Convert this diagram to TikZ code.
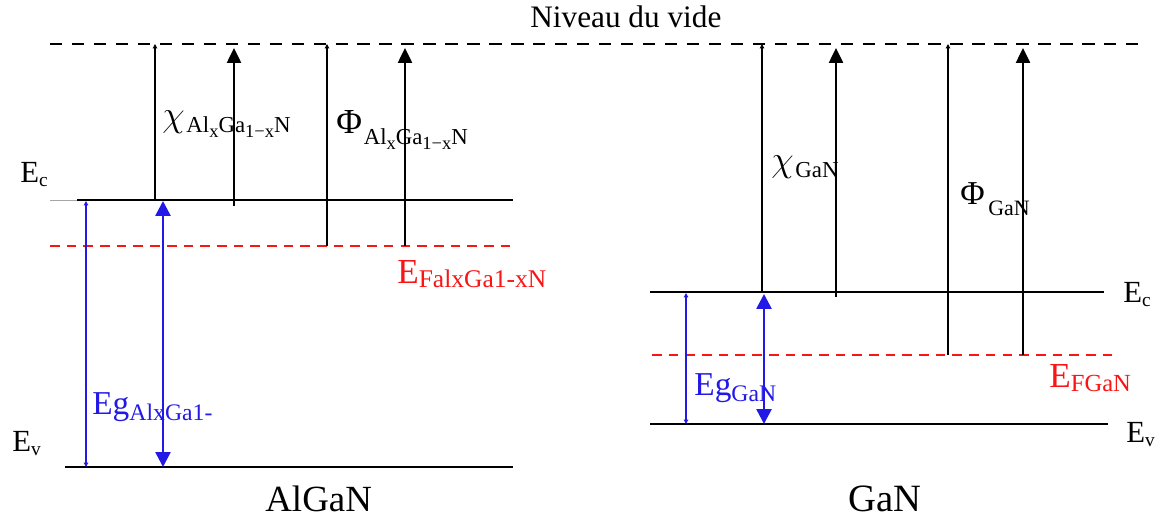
\documentclass[tikz,border=0pt]{standalone}
\usepackage{fontspec}
\setmainfont{Liberation Serif}
\usetikzlibrary{arrows.meta}
\definecolor{bandblue}{RGB}{35,25,230}
\definecolor{fermired}{RGB}{250,20,20}
\newcommand{\fs}[1]{\fontsize{#1}{#1}\selectfont}
\newcommand{\lowr}[3]{\raisebox{-#1}{\fs{#2}#3}}
\begin{document}
\begin{tikzpicture}[x=0.02cm,y=-0.02cm,
  lbl/.style={inner sep=0pt, anchor=base west},
  level/.style={line width=1.7pt, black},
  vac/.style={line width=1.6pt, black, dash pattern=on 7pt off 5.5pt},
  fermi/.style={line width=1.7pt, fermired, dash pattern=on 5.5pt off 4pt},
  thinarr/.style={line width=0.9pt, -{Triangle[width=2.5pt,length=2.5pt]}},
  bigarr/.style={line width=1.2pt, -{Triangle[width=8pt,length=8.5pt]}},
  bluethin/.style={line width=1pt, bandblue, {Triangle[width=2.5pt,length=2.5pt]}-{Triangle[width=2.5pt,length=2.5pt]}},
  bluebig/.style={line width=1.5pt, bandblue, {Triangle[width=8.5pt,length=8.5pt]}-{Triangle[width=8.5pt,length=8.5pt]}}
]
\useasboundingbox (0,0) rectangle (1163,519);

% vacuum level
\coordinate (vacL) at (50,44);
\coordinate (vacR) at (1140,44);
\draw[vac] (vacL) -- (vacR);
\node[lbl] (niv) at (530,28) {\fs{17.8}Niveau du vide};

% ---------- AlGaN ----------
\coordinate (ecLg) at (50,200);
\coordinate (ecL0) at (77,200);
\coordinate (ecL1) at (513,200);
\draw[gray!70, line width=0.5pt] (ecLg) -- (ecL0);
\draw[level] (ecL0) -- (ecL1);
\coordinate (efL0) at (50,246);
\coordinate (efL1) at (513,246);
\draw[fermi] (efL0) -- (efL1);
\coordinate (evL0) at (65,467);
\coordinate (evL1) at (513,467);
\draw[level] (evL0) -- (evL1);

\coordinate (a1b) at (155,200); \coordinate (a1t) at (155,44);
\coordinate (a2b) at (234,206); \coordinate (a2t) at (234,48);
\coordinate (a3b) at (327,246); \coordinate (a3t) at (327,44);
\coordinate (a4b) at (405,246); \coordinate (a4t) at (405,48);
\draw[thinarr] (a1b) -- (a1t);
\draw[bigarr] (a2b) -- (a2t);
\draw[thinarr] (a3b) -- (a3t);
\draw[bigarr] (a4b) -- (a4t);

\coordinate (b1t) at (86,201); \coordinate (b1b) at (86,467);
\coordinate (b2t) at (163,201); \coordinate (b2b) at (163,467);
\draw[bluethin] (b1t) -- (b1b);
\draw[bluebig] (b2t) -- (b2b);

\node[lbl] (ecLlab) at (20,183) {\fs{17.5}E\lowr{2pt}{11}{c}};
\node[lbl] (evLlab) at (12,452) {\fs{17.5}E\lowr{2pt}{11}{v}};
\node[lbl] (chiL) at (162,127) {\fs{21}$\chi$\hspace{1pt}\lowr{3pt}{13}{Al\lowr{3pt}{10.5}{x}Ga\lowr{3pt}{10.5}{1−x}N}};
\node[lbl] (phiL) at (336,134) {\fs{20}Φ\hspace{1pt}\lowr{6pt}{13}{Al\lowr{3pt}{10.5}{x}Ga\lowr{3pt}{10.5}{1−x}N}};
\node[lbl, fermired] (efLlab) at (397,284) {\fs{20}E\lowr{2pt}{14.5}{FalxGa1-xN}};
\node[lbl, bandblue] (egLlab) at (92,415) {\fs{19}Eg\lowr{3pt}{13.5}{AlxGa1-}};
\node[lbl] (algan) at (265,512) {\fs{21}AlGaN};

% ---------- GaN ----------
\coordinate (ecR0) at (650,292);
\coordinate (ecR1) at (1104,292);
\draw[level] (ecR0) -- (ecR1);
\coordinate (efR0) at (652,355);
\coordinate (efR1) at (1116,355);
\draw[fermi] (efR0) -- (efR1);
\coordinate (evR0) at (650,424);
\coordinate (evR1) at (1108,424);
\draw[level] (evR0) -- (evR1);

\coordinate (c1b) at (762,292); \coordinate (c1t) at (762,44);
\coordinate (c2b) at (836,297); \coordinate (c2t) at (836,48);
\coordinate (c3b) at (948,355); \coordinate (c3t) at (948,44);
\coordinate (c4b) at (1023,355); \coordinate (c4t) at (1023,48);
\draw[thinarr] (c1b) -- (c1t);
\draw[bigarr] (c2b) -- (c2t);
\draw[thinarr] (c3b) -- (c3t);
\draw[bigarr] (c4b) -- (c4t);

\coordinate (d1t) at (686,293); \coordinate (d1b) at (686,424);
\coordinate (d2t) at (764,294); \coordinate (d2b) at (764,424);
\draw[bluethin] (d1t) -- (d1b);
\draw[bluebig] (d2t) -- (d2b);

\node[lbl] (ecRlab) at (1123,303) {\fs{17.5}E\lowr{2pt}{11}{c}};
\node[lbl] (evRlab) at (1126,443) {\fs{17.5}E\lowr{2pt}{11}{v}};
\node[lbl] (chiR) at (771,172) {\fs{21}$\chi$\hspace{1pt}\lowr{3pt}{13}{GaN}};
\node[lbl] (phiR) at (960,205) {\fs{19}Φ\hspace{2pt}\lowr{6pt}{12.5}{GaN}};
\node[lbl, fermired] (efRlab) at (1049,388) {\fs{20}E\lowr{2pt}{14}{FGaN}};
\node[lbl, bandblue] (egRlab) at (694,396) {\fs{19}Eg\lowr{3pt}{13.5}{GaN}};
\node[lbl] (gan) at (848,512) {\fs{22}GaN};
\end{tikzpicture}
\end{document}
